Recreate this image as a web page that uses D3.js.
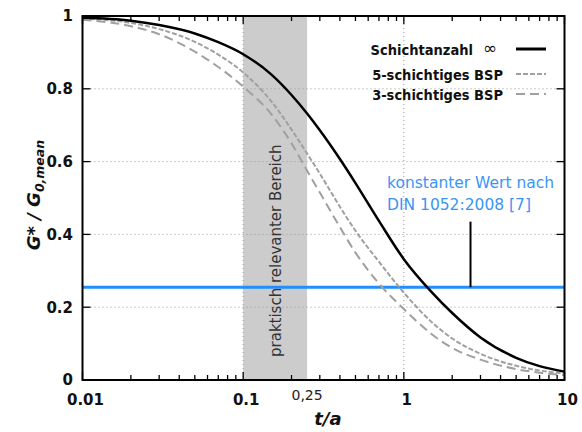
<!DOCTYPE html>
<html>
<head>
<meta charset="utf-8">
<script src="https://cdn.jsdelivr.net/npm/d3@7"></script>
<style>
  body { margin: 0; background: #fff; }
  svg { display: block; }
</style>
</head>
<body>
<svg id="chart" width="582" height="432"></svg>
<script>
"use strict";

// t/a stations
const tValues = [0.01, 0.02, 0.03, 0.05, 0.07, 0.1, 0.15, 0.2, 0.25, 0.3, 0.4, 0.5, 0.7, 1, 1.5, 2, 3, 5, 7, 10];
// Schichtanzahl unendlich
const gInf = [0.995, 0.987, 0.975, 0.952, 0.928, 0.895, 0.839, 0.783, 0.732, 0.686, 0.607, 0.541, 0.437, 0.332, 0.24, 0.184, 0.117, 0.061, 0.038, 0.023];
// 5-schichtiges BSP
const g5 = [0.993, 0.981, 0.964, 0.929, 0.894, 0.845, 0.765, 0.688, 0.622, 0.567, 0.476, 0.41, 0.325, 0.24, 0.158, 0.114, 0.072, 0.039, 0.026, 0.018];
// 3-schichtiges BSP
const g3 = [0.99, 0.972, 0.95, 0.902, 0.86, 0.806, 0.73, 0.65, 0.575, 0.515, 0.42, 0.35, 0.265, 0.195, 0.125, 0.088, 0.056, 0.03, 0.02, 0.013];

const dinValue = 0.255;
const bandRange = [0.1, 0.25];
const pointer = { t: 2.6, from: 0.255, to: 0.435 };

const xMajor = [0.01, 0.1, 1, 10];
const xMajorLabels = ["0.01", "0.1", "1", "10"];
const yMajor = [0, 0.2, 0.4, 0.6, 0.8, 1];
const yMajorLabels = ["0", "0.2", "0.4", "0.6", "0.8", "1"];
const yGrid = [0.2, 0.4, 0.6, 0.8];
const xGrid = [0.1, 1];

const legendNames = ["Schichtanzahl", "5-schichtiges BSP", "3-schichtiges BSP"];

const svg = d3.select("#chart");
const pLeft = 82.5, pRight = 564.5, pTop = 16, pBottom = 380;

const x = d3.scaleLog().domain([0.01, 10]).range([pLeft, pRight]);
const y = d3.scaleLinear().domain([0, 1]).range([pBottom, pTop]);

const boldFont = "DejaVu Sans, sans-serif";
const legendFont = "DejaVu Sans Condensed, DejaVu Sans, sans-serif";
const grayLine = "#a0a0a0";
const blue = "#1f8fff";

// gray band
svg.append("rect")
  .attr("x", x(bandRange[0]))
  .attr("y", pTop)
  .attr("width", x(bandRange[1]) - x(bandRange[0]))
  .attr("height", pBottom - pTop)
  .attr("fill", "#cccccc");

// grid
svg.selectAll(".hgrid").data(yGrid).enter().append("line")
  .attr("x1", pLeft).attr("x2", pRight)
  .attr("y1", (d) => y(d)).attr("y2", (d) => y(d))
  .attr("stroke", "#999").attr("stroke-width", 1).attr("stroke-dasharray", "1,3");
svg.selectAll(".vgrid").data(xGrid).enter().append("line")
  .attr("x1", (d) => x(d)).attr("x2", (d) => x(d))
  .attr("y1", pTop).attr("y2", pBottom)
  .attr("stroke", "#999").attr("stroke-width", 1).attr("stroke-dasharray", "1,3");

// band text
svg.append("text")
  .attr("transform", "translate(281,357) rotate(-90)")
  .attr("font-family", "DejaVu Sans, sans-serif")
  .attr("font-size", 15)
  .attr("fill", "#333")
  .text("praktisch relevanter Bereich");

// DIN constant
svg.append("line")
  .attr("x1", pLeft).attr("x2", pRight)
  .attr("y1", y(dinValue)).attr("y2", y(dinValue))
  .attr("stroke", blue).attr("stroke-width", 3);

const line = d3.line()
  .x((d, i) => x(tValues[i]))
  .y((d) => y(d))
  .curve(d3.curveMonotoneX);

svg.append("path").attr("d", line(g3))
  .attr("fill", "none").attr("stroke", grayLine).attr("stroke-width", 2)
  .attr("stroke-dasharray", "9,5");
svg.append("path").attr("d", line(g5))
  .attr("fill", "none").attr("stroke", grayLine).attr("stroke-width", 2)
  .attr("stroke-dasharray", "5,2");
svg.append("path").attr("d", line(gInf))
  .attr("fill", "none").attr("stroke", "#000").attr("stroke-width", 2.5);

// pointer
svg.append("line")
  .attr("x1", x(pointer.t)).attr("x2", x(pointer.t))
  .attr("y1", y(pointer.from)).attr("y2", y(pointer.to))
  .attr("stroke", "#000").attr("stroke-width", 2);

// annotation
const note = svg.append("text")
  .attr("font-family", "DejaVu Sans, sans-serif")
  .attr("font-size", 15.5)
  .attr("fill", "#3a95f5");
note.append("tspan").attr("x", 387).attr("y", 188).text("konstanter Wert nach");
note.append("tspan").attr("x", 387).attr("y", 210).text("DIN 1052:2008 [7]");

// legend
const legendY = [49, 74, 94];
const legendTextEnd = [473, 503, 503];
const legendDash = [null, "5,2", "9,5"];
const legendColor = ["#000", grayLine, grayLine];
const legendWidth = [3, 2, 2];
legendNames.forEach((name, i) => {
  svg.append("text")
    .attr("x", legendTextEnd[i]).attr("y", legendY[i] + 6)
    .attr("text-anchor", "end")
    .attr("font-family", legendFont).attr("font-weight", "bold")
    .attr("font-size", 14.5)
    .attr("fill", "#111")
    .text(name);
  svg.append("line")
    .attr("x1", 516).attr("x2", 546)
    .attr("y1", legendY[i]).attr("y2", legendY[i])
    .attr("stroke", legendColor[i]).attr("stroke-width", legendWidth[i])
    .attr("stroke-dasharray", legendDash[i]);
});
svg.append("text")
  .attr("x", 490).attr("y", legendY[0] + 5)
  .attr("text-anchor", "middle")
  .attr("font-family", boldFont).attr("font-size", 17)
  .attr("fill", "#111")
  .text("\u221e");

// ticks (inward, mirrored)
const minor = x.ticks().filter((d) => !xMajor.includes(d));
const tickG = svg.append("g").attr("stroke", "#000").attr("stroke-width", 1.3);
minor.forEach((d) => {
  tickG.append("line").attr("x1", x(d)).attr("x2", x(d)).attr("y1", pBottom).attr("y2", pBottom - 5);
  tickG.append("line").attr("x1", x(d)).attr("x2", x(d)).attr("y1", pTop).attr("y2", pTop + 5);
});
xMajor.forEach((d) => {
  tickG.append("line").attr("x1", x(d)).attr("x2", x(d)).attr("y1", pBottom).attr("y2", pBottom - 8);
  tickG.append("line").attr("x1", x(d)).attr("x2", x(d)).attr("y1", pTop).attr("y2", pTop + 8);
});
yMajor.forEach((d) => {
  tickG.append("line").attr("x1", pLeft).attr("x2", pLeft + 8).attr("y1", y(d)).attr("y2", y(d));
  tickG.append("line").attr("x1", pRight).attr("x2", pRight - 8).attr("y1", y(d)).attr("y2", y(d));
});

// frame
svg.append("rect")
  .attr("x", pLeft).attr("y", pTop)
  .attr("width", pRight - pLeft).attr("height", pBottom - pTop)
  .attr("fill", "none").attr("stroke", "#000").attr("stroke-width", 2);

// tick labels
svg.selectAll(".xlab").data(xMajor).enter().append("text")
  .attr("x", (d) => x(d) + 3).attr("y", 405)
  .attr("text-anchor", "middle")
  .attr("font-family", boldFont).attr("font-weight", "bold").attr("font-size", 15)
  .attr("fill", "#111")
  .text((d, i) => xMajorLabels[i]);
svg.append("text")
  .attr("x", x(0.25)).attr("y", 400)
  .attr("text-anchor", "middle")
  .attr("font-family", "DejaVu Sans, sans-serif").attr("font-size", 14)
  .attr("fill", "#222")
  .text("0,25");
svg.selectAll(".ylab").data(yMajor).enter().append("text")
  .attr("x", 73).attr("y", (d) => y(d))
  .attr("dy", "0.36em")
  .attr("text-anchor", "end")
  .attr("font-family", boldFont).attr("font-weight", "bold").attr("font-size", 15)
  .attr("fill", "#111")
  .text((d, i) => yMajorLabels[i]);

// axis titles
svg.append("text")
  .attr("x", 328).attr("y", 425)
  .attr("text-anchor", "middle")
  .attr("font-family", boldFont).attr("font-weight", "bold").attr("font-style", "italic")
  .attr("font-size", 18)
  .attr("fill", "#111")
  .text("t/a");

const yTitle = svg.append("text")
  .attr("transform", "translate(40,195) rotate(-90)")
  .attr("text-anchor", "middle")
  .attr("font-family", boldFont).attr("font-weight", "bold").attr("font-style", "italic")
  .attr("font-size", 18)
  .attr("fill", "#111");
yTitle.append("tspan").text("G* / G");
yTitle.append("tspan").attr("font-size", 12.5).attr("dy", 4).text("0,mean");
</script>
</body>
</html>
